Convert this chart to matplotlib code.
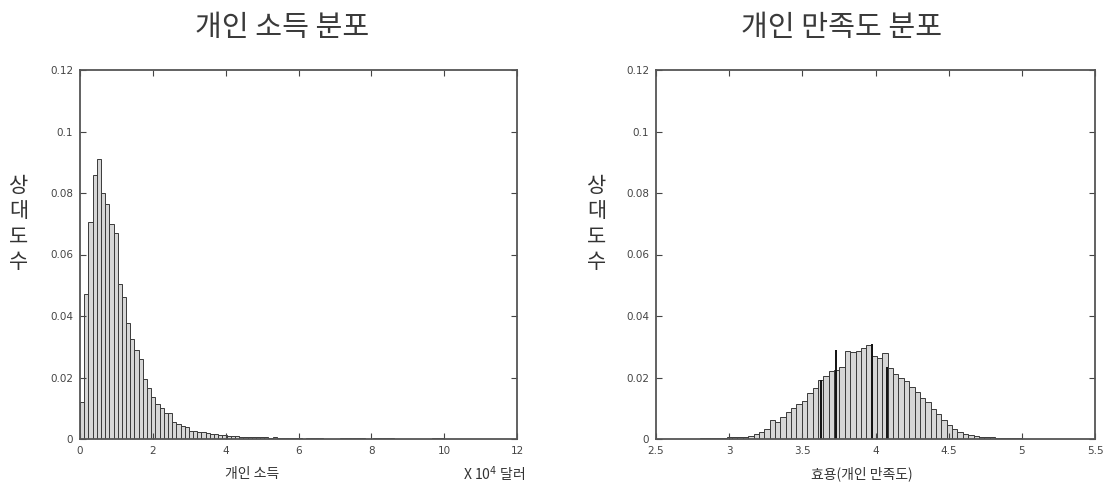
import matplotlib
matplotlib.use("Agg")
import matplotlib.pyplot as plt
import numpy as np

plt.rcParams['font.family'] = ['Noto Sans CJK KR', 'DejaVu Sans']

# ---------------- data ----------------
titles = ["개인 소득 분포", "개인 만족도 분포"]
ylabel = "상대도수"
left_xlabel = "개인 소득"
left_unit = "X 10$^4$ 달러"
right_xlabel = "효용(개인 만족도)"

left_bin_start = 0.0
left_bin_width = 0.115
left_hist = [0.012, 0.047, 0.0705, 0.086, 0.091, 0.080, 0.0765, 0.070, 0.067, 0.0505,
             0.0463, 0.0376, 0.0324, 0.029, 0.026, 0.0195, 0.0165, 0.0138, 0.0115, 0.010,
             0.0085, 0.0085, 0.0055, 0.005, 0.0042, 0.0038, 0.0027, 0.0025, 0.0023, 0.0022,
             0.0020, 0.0016, 0.0015, 0.0013, 0.0012, 0.0011, 0.0010, 0.0009, 0.0008, 0.0008,
             0.0007, 0.0006, 0.0005, 0.0006, 0.0005, 0.0004, 0.0005, 0.0004, 0.0003, 0.0004,
             0.0003, 0.0003, 0.0002, 0, 0.0003, 0.0003, 0.0002, 0.0003, 0, 0,
             0, 0, 0.0002, 0.0002, 0.0002, 0.0002, 0.0003, 0.0002, 0, 0,
             0.0002, 0.0003, 0.0002, 0.0002, 0.0002, 0, 0, 0, 0, 0,
             0, 0, 0, 0, 0.0002, 0.0003, 0.0002]
left_xticks = [0, 2, 4, 6, 8, 10, 12]
yticks = [0, 0.02, 0.04, 0.06, 0.08, 0.1, 0.12]
yticklabels = ["0", "0.02", "0.04", "0.06", "0.08", "0.1", "0.12"]

right_bin_start = 2.8
right_bin_width = 2.2 / 60
right_hist = [0.0003, 0.0003, 0.0002, 0.0002, 0.0003, 0.0005, 0.0005, 0.0006, 0.0008, 0.0011,
              0.0015, 0.0022, 0.0033, 0.0062, 0.0054, 0.0070, 0.0087, 0.0102, 0.0115, 0.0125,
              0.0150, 0.0165, 0.0192, 0.0205, 0.0220, 0.0225, 0.0235, 0.0287, 0.0284, 0.0287,
              0.0295, 0.0306, 0.0270, 0.0262, 0.0280, 0.0230, 0.0213, 0.0197, 0.0189, 0.0169,
              0.0153, 0.0134, 0.0120, 0.0098, 0.0082, 0.0062, 0.0044, 0.0033, 0.0022, 0.0016,
              0.0013, 0.0011, 0.0007, 0.0005, 0.0005, 0.0004, 0.0003, 0.0003, 0.0002, 0.0003]
right_dark_x = [3.626, 3.73, 3.974, 4.08]
right_dark_h = [0.0192, 0.029, 0.031, 0.0235]
right_xticks = [2.5, 3, 3.5, 4, 4.5, 5, 5.5]
right_xticklabels = ["2.5", "3", "3.5", "4", "4.5", "5", "5.5"]

# ---------------- figure ----------------
W, H = 1107, 488
fig = plt.figure(figsize=(W / 100, H / 100), dpi=100)

def axrect(x0, x1, ytop, ybot):
    return [x0 / W, 1 - ybot / H, (x1 - x0) / W, (ybot - ytop) / H]

axL = fig.add_axes(axrect(80, 517, 70, 439))
axR = fig.add_axes(axrect(656, 1095, 70, 439))

face = '#d6d6d6'
edge = '#3a3a3a'

def style(ax, xlim, xticks, xticklabels=None):
    ax.set_xlim(*xlim)
    ax.set_ylim(0, 0.12)
    ax.set_xticks(xticks)
    if xticklabels is not None:
        ax.set_xticklabels(xticklabels)
    ax.set_yticks(yticks)
    ax.set_yticklabels(yticklabels)
    ax.tick_params(direction='in', length=4, width=0.8, colors='#444444',
                   labelsize=7.5, top=True, right=True, pad=5)
    for lab in ax.get_xticklabels() + ax.get_yticklabels():
        lab.set_fontfamily(['DejaVu Sans'])
        lab.set_color('#444444')
    for s in ax.spines.values():
        s.set_linewidth(1.3)
        s.set_color('#555555')

# left histogram
lx = left_bin_start + np.arange(len(left_hist)) * left_bin_width
axL.bar(lx, left_hist, width=left_bin_width, align='edge',
        facecolor=face, edgecolor=edge, linewidth=0.7)
style(axL, (0, 12), left_xticks)

# right histogram
rx = right_bin_start + np.arange(len(right_hist)) * right_bin_width
axR.bar(rx, right_hist, width=right_bin_width, align='edge',
        facecolor=face, edgecolor=edge, linewidth=0.7)
axR.vlines(right_dark_x, 0, right_dark_h, colors='#111111', linewidth=1.4)
style(axR, (2.5, 5.5), right_xticks, right_xticklabels)

# titles
fig.text(282 / W, 1 - 28 / H, titles[0], ha='center', va='center',
         fontsize=21, color='#3a3a3a', fontweight='medium')
fig.text(842 / W, 1 - 28 / H, titles[1], ha='center', va='center',
         fontsize=21, color='#3a3a3a', fontweight='medium')

# stacked y labels
for xpix in (19, 597):
    fig.text(xpix / W, 1 - 224 / H, "\n".join(ylabel), ha='center', va='center',
             fontsize=15, color='#333333', linespacing=1.2)

# x labels
fig.text(252 / W, 1 - 474 / H, left_xlabel, ha='center', va='center',
         fontsize=10, color='#333333')
fig.text(494 / W, 1 - 474 / H, left_unit, ha='center', va='center',
         fontsize=10, color='#333333')
fig.text(862 / W, 1 - 474 / H, right_xlabel, ha='center', va='center',
         fontsize=10, color='#333333')

fig.savefig("out.png", dpi=100)
